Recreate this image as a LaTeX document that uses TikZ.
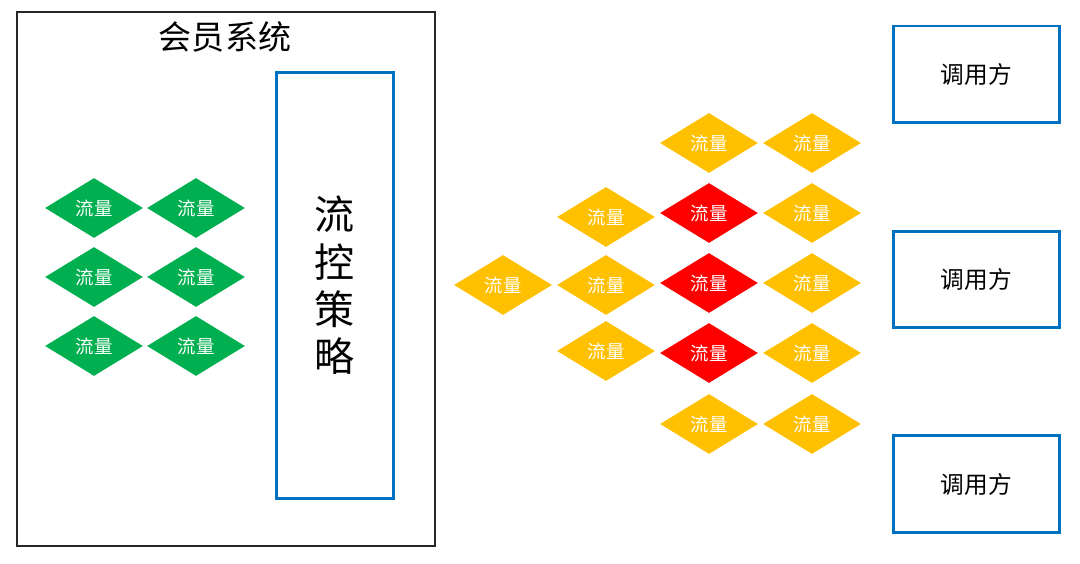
\documentclass[tikz,border=0pt]{standalone}
\usepackage{fontspec}
\usepackage{tikz}
\setmainfont{Noto Sans CJK SC}
\usetikzlibrary{shapes.geometric, positioning}
\definecolor{FlowGreen}{HTML}{00B050}
\definecolor{FlowAmber}{HTML}{FFC000}
\definecolor{FlowRed}{HTML}{FF0000}
\definecolor{EdgeBlue}{HTML}{0070C0}
\definecolor{FrameGray}{HTML}{262626}

\begin{document}
\begin{tikzpicture}[x=0.02cm, y=-0.02cm,
  flow/.style={diamond, inner sep=0pt, minimum width=1.96cm, minimum height=1.2cm, text=white, font=\fontsize{10.5}{12}\selectfont},
  caller/.style={draw=EdgeBlue, line width=1.7pt, minimum width=3.34cm, minimum height=1.94cm, font=\fontsize{13.5}{16}\selectfont}]
  \useasboundingbox (0,0) rectangle (1080,564);

  % member system with its flow control strategy
  \node (member) [draw=FrameGray, line width=1.1pt, minimum width=8.36cm, minimum height=10.68cm] at (226,279) {};
  \node (title) [font=\fontsize{18.8}{22}\selectfont] at (225,37) {会员系统};
  \node (policy) [draw=EdgeBlue, line width=1.7pt, minimum width=2.36cm, minimum height=8.54cm, align=center, font=\fontsize{22.8}{27}\selectfont] at (335,285.5) {流\\控\\策\\略};

  % admitted traffic
  \node (g11) [flow, fill=FlowGreen] at (94,208) {流量};
  \node (g12) [flow, fill=FlowGreen] at (196,208) {流量};
  \node (g21) [flow, fill=FlowGreen] at (94,277) {流量};
  \node (g22) [flow, fill=FlowGreen] at (196,277) {流量};
  \node (g31) [flow, fill=FlowGreen] at (94,346) {流量};
  \node (g32) [flow, fill=FlowGreen] at (196,346) {流量};

  % incoming traffic
  \node (a1) [flow, fill=FlowAmber] at (503,285) {流量};
  \node (b1) [flow, fill=FlowAmber] at (606,217) {流量};
  \node (b2) [flow, fill=FlowAmber] at (606,285) {流量};
  \node (b3) [flow, fill=FlowAmber] at (606,351) {流量};
  \node (c1) [flow, fill=FlowAmber] at (709,143) {流量};
  \node (c2) [flow, fill=FlowRed] at (709,213) {流量};
  \node (c3) [flow, fill=FlowRed] at (709,283) {流量};
  \node (c4) [flow, fill=FlowRed] at (709,353) {流量};
  \node (c5) [flow, fill=FlowAmber] at (709,424) {流量};
  \node (d1) [flow, fill=FlowAmber] at (812,143) {流量};
  \node (d2) [flow, fill=FlowAmber] at (812,213) {流量};
  \node (d3) [flow, fill=FlowAmber] at (812,283) {流量};
  \node (d4) [flow, fill=FlowAmber] at (812,353) {流量};
  \node (d5) [flow, fill=FlowAmber] at (812,424) {流量};

  % callers
  \node (caller1) [caller] at (976.5,74.5) {调用方};
  \node (caller2) [caller] at (976.5,279.5) {调用方};
  \node (caller3) [caller] at (976.5,484) {调用方};
\end{tikzpicture}
\end{document}
